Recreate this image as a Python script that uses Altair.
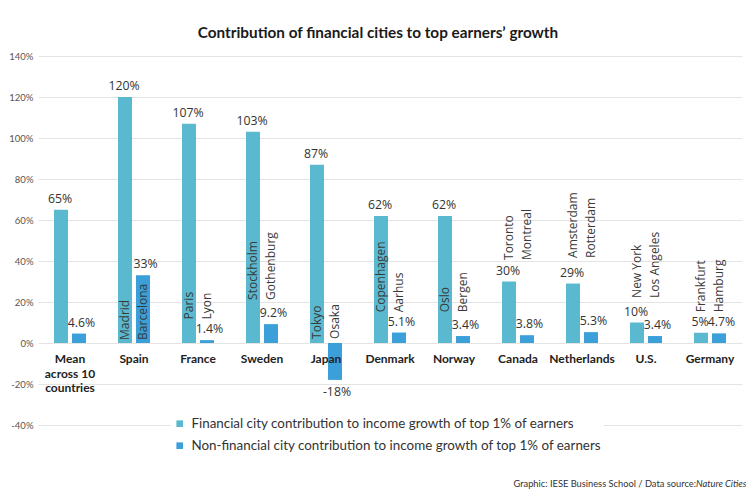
import altair as alt
import pandas as pd

countries = ["Mean across 10 countries", "Spain", "France", "Sweden", "Japan", "Denmark",
             "Norway", "Canada", "Netherlands", "U.S.", "Germany"]
country_display = ["Mean\nacross 10\ncountries", "Spain", "France", "Sweden", "Japan", "Denmark",
                   "Norway", "Canada", "Netherlands", "U.S.", "Germany"]
fin_values = [65, 120, 107, 103, 87, 62, 62, 30, 29, 10, 5]
fin_labels = ["65%", "120%", "107%", "103%", "87%", "62%", "62%", "30%", "29%", "10%", "5%"]
nonfin_values = [4.6, 33, 1.4, 9.2, -18, 5.1, 3.4, 3.8, 5.3, 3.4, 4.7]
nonfin_labels = ["4.6%", "33%", "1.4%", "9.2%", "-18%", "5.1%", "3.4%", "3.8%", "5.3%", "3.4%", "4.7%"]
fin_cities = ["", "Madrid", "Paris", "Stockholm", "Tokyo", "Copenhagen", "Oslo", "Toronto",
              "Amsterdam", "New York", "Frankfurt"]
nonfin_cities = ["", "Barcelona", "Lyon", "Gothenburg", "Osaka", "Aarhus", "Bergen", "Montreal",
                 "Rotterdam", "Los Angeles", "Hamburg"]
# where each country's rotated city names start (in % units)
city_label_start = [0, 1.5, 11.5, 21, 2, 15, 15, 40.5, 41.5, 22, 15]

FIN = "Financial city contribution to income growth of top 1% of earners"
NON = "Non-financial city contribution to income growth of top 1% of earners"
footer_parts = ["Graphic: IESE Business School / Data source:\u00a0", "Nature Cities"]

rows = []
for i, c in enumerate(countries):
    rows.append(dict(country=c, series=FIN, value=fin_values[i], label=fin_labels[i],
                     city=fin_cities[i], start=city_label_start[i]))
    rows.append(dict(country=c, series=NON, value=nonfin_values[i], label=nonfin_labels[i],
                     city=nonfin_cities[i], start=city_label_start[i]))
df = pd.DataFrame(rows)
cdf = pd.DataFrame(dict(country=countries, display=country_display))

xscale = alt.Scale(domain=countries, paddingInner=0.5, paddingOuter=0.25)
xoff = alt.XOffset("series:N", scale=alt.Scale(domain=[FIN, NON], paddingInner=0.2222))
yscale = alt.Scale(domain=[-40, 140], nice=False)

base = alt.Chart(df)

bars = base.mark_bar().encode(
    x=alt.X("country:N", scale=xscale, axis=None, sort=countries),
    xOffset=xoff,
    y=alt.Y("value:Q", scale=yscale,
            axis=alt.Axis(values=list(range(-40, 141, 20)), labelExpr="datum.value + '%'",
                          title=None, domain=False, ticks=False, grid=True,
                          gridColor="#e4e4e4", labelColor="#555555", labelFontSize=9.5,
                          labelFont="Lato", labelPadding=5)),
    color=alt.Color("series:N", scale=alt.Scale(domain=[FIN, NON], range=["#5bb9cf", "#3b9fd9"]),
                    legend=alt.Legend(title=None, orient="none", legendX=133, legendY=359,
                                      symbolType="square", symbolSize=44, symbolStrokeWidth=0,
                                      labelFontSize=13.4, labelFont="Lato",
                                      labelColor="#333333", rowPadding=7, labelLimit=600,
                                      labelOffset=5, fillColor="white", padding=2)),
)

def value_layer(flt, baseline, dy, dx):
    return base.transform_filter(flt).mark_text(
        baseline=baseline, dy=dy, dx=dx, fontSize=12.3, font="Open Sans", color="#333333"
    ).encode(
        x=alt.X("country:N", scale=xscale, sort=countries),
        xOffset=xoff,
        y=alt.Y("value:Q", scale=yscale),
        text="label:N",
    )

fin_pos = value_layer(f"datum.series == '{FIN}' && datum.value >= 0", "bottom", -4, -1)
non_pos = value_layer(f"datum.series == '{NON}' && datum.value >= 0", "bottom", -4, 2.5)
neg_lab = value_layer("datum.value < 0", "top", 6, 2)

city_text = base.transform_filter("datum.city != ''").mark_text(
    angle=270, align="left", baseline="middle", fontSize=12, font="Open Sans", color="#3a3a3a"
).encode(
    x=alt.X("country:N", scale=xscale, sort=countries),
    xOffset=xoff,
    y=alt.Y("start:Q", scale=yscale),
    text="city:N",
)

country_text = alt.Chart(cdf).mark_text(
    baseline="top", dy=11, fontSize=12, font="Lato", fontWeight="bold",
    color="#222222", lineBreak="\n", lineHeight=14.5
).encode(
    x=alt.X("country:N", scale=xscale, sort=countries),
    y=alt.datum(0, scale=yscale),
    text="display:N",
)

footer_df = pd.DataFrame(dict(part=footer_parts))
footer1 = alt.Chart(footer_df).transform_filter(alt.datum.part == footer_parts[0]).mark_text(
    align="right", baseline="middle", fontSize=9.3, font="Lato", color="#333333"
).encode(x=alt.value(658), y=alt.value(428), text="part:N")
footer2 = alt.Chart(footer_df).transform_filter(alt.datum.part == footer_parts[1]).mark_text(
    align="left", baseline="middle", fontSize=9.3, font="Lato",
    fontStyle="italic", color="#333333"
).encode(x=alt.value(658), y=alt.value(428), text="part:N")

chart = alt.layer(bars, fin_pos, non_pos, neg_lab, city_text, country_text, footer1, footer2).properties(
    width=704, height=369,
    title=alt.Title("Contribution of financial cities to top earners\u2019 growth",
                    fontSize=15.3, font="Lato", fontWeight="bold",
                    color="#1a1a1a", anchor="middle", offset=10, dx=-12),
    autosize=alt.AutoSizeParams(type="none"),
    padding={"left": 30, "top": 48, "right": 4, "bottom": 69},
).configure_view(stroke=None).configure_axis(gridWidth=1)

chart.save("out.html", embed_options={"renderer": "svg", "actions": False})
